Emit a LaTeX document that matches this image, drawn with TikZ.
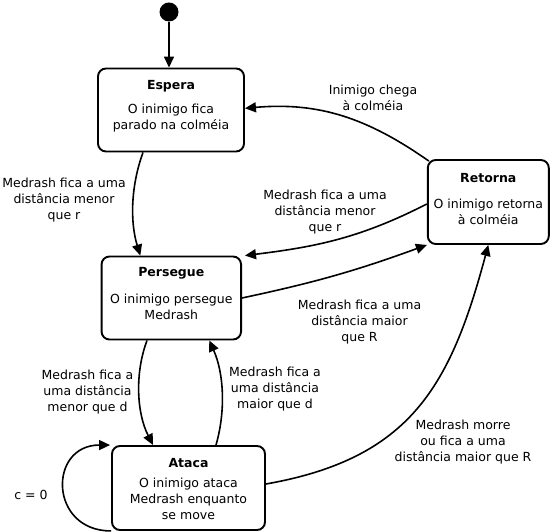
\documentclass[tikz,border=0pt]{standalone}
\usepackage{fontspec}
\setmainfont{DejaVu Sans}
\usetikzlibrary{arrows.meta}
\tikzset{
  statebox/.style={draw, line width=1.9pt, rounded corners=8pt, minimum width=#1, inner sep=0pt, minimum height=83pt},
  txt/.style={inner sep=0pt, align=center, font=\fontsize{12.5}{16}\selectfont},
  ttl/.style={inner sep=0pt, align=center, font=\fontsize{12.5}{16}\selectfont\bfseries},
  arr/.style={line width=1.6pt, -{Triangle[length=11pt,width=10pt]}},
}
\begin{document}
\begin{tikzpicture}[x=1pt,y=1pt]
\useasboundingbox (0,0) rectangle (551,532);
% initial
\node[fill, circle, minimum size=19pt, inner sep=0pt] (dot) at (169,520) {};
% states
\node[statebox=146pt] (espera) at (171,422) {};
\node[ttl] (esperaT) at (171,446) {Espera};
\node[txt] (esperaD) at (171,413.7) {O inimigo fica\\parado na colméia};

\node[statebox=121pt, minimum height=84pt] (retorna) at (488.3,330) {};
\node[ttl] (retornaT) at (488.3,353.7) {Retorna};
\node[txt] (retornaD) at (488.3,320.4) {O inimigo retorna\\à colméia};

\node[statebox=139.5pt] (persegue) at (171.3,234) {};
\node[ttl] (persegueT) at (171.3,258.7) {Persegue};
\node[txt] (persegueD) at (171.3,224.9) {O inimigo persegue\\Medrash};

\node[statebox=153pt, minimum height=84pt] (ataca) at (188.5,44) {};
\node[ttl] (atacaT) at (188.5,69) {Ataca};
\node[txt] (atacaD) at (188.5,33.5) {O inimigo ataca\\Medrash enquanto\\se move};

% connectors
\draw[arr] (dot) -- (dot |- espera.north);
\draw[arr] ([xshift=-28pt]espera.south) to[out=-110,in=107,looseness=0.88] ([xshift=-31pt]persegue.north);
\draw[arr] ([shift={(2pt,-2pt)}]retorna.north west) to[out=145,in=5] ([yshift=1.7pt]espera.east);
\draw[arr] ([yshift=-2pt]retorna.west) to[out=207,in=7] ([xshift=3pt]persegue.north east);
\draw[arr] (persegue.east) to[out=12,in=200] (retorna.south west);
\draw[arr] ([xshift=-24.3pt]persegue.south) to[out=-110.5,in=117,looseness=0.87] ([xshift=-35.5pt]ataca.north);
\draw[arr] ([xshift=27.5pt]ataca.north) to[out=74,in=-66,looseness=0.875] ([xshift=38pt]persegue.south);
\draw[arr] ([yshift=4pt]ataca.east) to[out=10,in=255,looseness=1.15] (retorna.south);
\draw[arr] (ataca.south west) to[out=180,in=180,looseness=1.85] ([xshift=-1pt]ataca.north west);

% labels
\node[txt] (l1) at (64,332) {Medrash fica a uma\\distância menor\\que r};
\node[txt] (l2) at (373,434.5) {Inimigo chega\\à colméia};
\node[txt] (l3) at (325,320) {Medrash fica a uma\\distância menor\\que r};
\node[txt] (l4) at (359.5,210) {Medrash fica a uma\\distância maior\\que R};
\node[txt] (l5) at (87.5,140) {Medrash fica a\\uma distância\\menor que d};
\node[txt] (l6) at (275,143) {Medrash fica a\\uma distância\\maior que d};
\node[txt] (l7) at (463,90) {Medrash morre\\ou fica a uma\\distância maior que R};
\node[txt] (l8) at (31,37) {c = 0};
\end{tikzpicture}
\end{document}
